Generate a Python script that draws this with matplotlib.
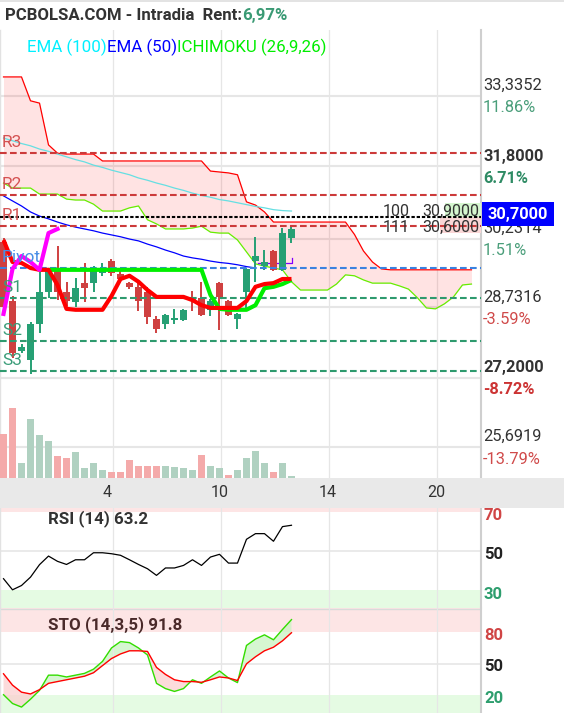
import numpy as np
import matplotlib
matplotlib.use("Agg")
import matplotlib.pyplot as plt
from matplotlib.patches import Rectangle
from matplotlib.transforms import blended_transform_factory, IdentityTransform, offset_copy

plt.rcParams['font.family'] = ['Roboto', 'DejaVu Sans']

# ---------------- data ----------------
opens = [30.16, 28.87, 27.78, 27.59, 28.37, 29.07, 29.55, 29.07, 28.85, 29.26, 29.26, 29.48, 29.74, 29.46, 29.26, 29.18, 29.07,
         28.48, 28.37, 28.46, 28.46, 28.94, 28.94, 28.68, 29.26, 28.87, 28.48, 29.07, 29.74, 29.63, 29.96, 29.55, 30.24]
highs = [30.24, 28.98, 27.93, 28.42, 29.59, 29.59, 30.07, 29.29, 29.37, 29.70, 29.63, 29.70, 29.79, 29.57, 29.29, 29.26, 29.18,
         28.55, 28.59, 28.70, 28.70, 29.09, 29.29, 28.92, 29.29, 28.89, 28.61, 29.59, 30.27, 29.98, 29.98, 30.46, 30.48]
lows = [28.68, 27.63, 27.74, 27.28, 28.18, 28.94, 28.89, 28.76, 28.74, 28.85, 29.07, 29.42, 29.42, 29.31, 29.13, 28.65, 28.37,
        28.18, 28.26, 28.37, 28.44, 28.65, 28.55, 28.55, 28.24, 28.55, 28.26, 28.65, 29.29, 29.55, 29.52, 29.53, 30.13]
closes = [28.74, 27.74, 27.87, 28.37, 29.07, 29.55, 29.07, 28.87, 29.15, 29.15, 29.55, 29.55, 29.48, 29.35, 29.18, 28.87, 28.52,
          28.26, 28.57, 28.50, 28.68, 28.89, 28.57, 28.87, 28.96, 28.57, 28.59, 29.57, 29.85, 29.72, 29.55, 30.35, 30.44]
volume = [125, 197, 42, 167, 122, 104, 62, 57, 72, 27, 42, 23, 18, 18, 50, 35, 35,
          33, 35, 30, 27, 22, 65, 35, 27, 8, 22, 57, 77, 42, 18, 42, 5]
vol_up = [0, 0, 1, 1, 1, 1, 0, 0, 1, 1, 1, 1, 0, 0, 0, 0, 0, 0, 1, 1, 1, 1, 0, 1, 1, 0, 1, 1, 1, 1, 0, 1, 1]

tenkan = [30.20, 29.72, 29.70, 29.59, 29.55, 29.55, 29.22, 28.70, 28.68, 28.68, 28.68, 28.68, 28.98, 29.35, 29.42, 29.29, 29.11,
          28.96, 28.96, 28.96, 28.96, 28.89, 28.78, 28.72, 28.72, 28.72, 28.72, 28.87, 29.18, 29.24, 29.26, 29.35, 29.35]
kijun = [np.nan] * 5 + [29.55] * 18 + [29.00, 28.70, 28.68, 28.68, 28.68, 28.78, 29.15, 29.18, 29.24, 29.33]
senkou_b = ([33.75, 33.75, 33.75, 33.23, 33.18, 32.27, 32.09] + [32.07] * 4 + [31.92] * 12 +
            [31.70, 31.68, 31.66, 31.62, 31.03, 30.96, 30.81] + [30.59] * 9 + [30.32, 29.96, 29.72, 29.57] + [29.55] * 10)
senkou_a = [31.44, 31.33, 31.33, 31.33, 31.20, 31.20, 31.20, 31.09, 31.07, 31.07, 30.98, 30.83, 30.83, 30.83, 30.90, 30.94,
            30.64, 30.55, 30.44, 30.44, 30.44, 30.46, 30.50, 30.37, 30.35, 30.35, 30.20, 29.94, 29.68, 29.63, 29.59, 29.55,
            29.29, 29.11, 29.11, 29.11, 29.11, 29.24, 29.44, 29.42, 29.33, 29.26, 29.26, 29.26, 29.20, 29.13, 28.94, 28.72,
            28.70, 28.81, 28.96, 29.22, 29.24]
ema100 = [32.42, 32.36, 32.30, 32.25, 32.18, 32.13, 32.07, 32.01, 31.95, 31.90, 31.83, 31.78, 31.72, 31.67, 31.62, 31.55, 31.50,
          31.44, 31.39, 31.33, 31.28, 31.22, 31.17, 31.13, 31.08, 31.05, 31.01, 30.97, 30.93, 30.90, 30.86, 30.84, 30.83]
ema50 = [31.16, 31.05, 30.94, 30.81, 30.72, 30.66, 30.59, 30.53, 30.48, 30.44, 30.40, 30.35, 30.31, 30.27, 30.22, 30.18, 30.11,
         30.05, 29.98, 29.92, 29.85, 29.81, 29.78, 29.74, 29.71, 29.69, 29.66, 29.62, 29.59]
signal_x = [28.3, 32.1, 32.1]
signal_y = [29.69, 29.69, 29.80]

level_names = ['R3', 'R2', 'R1', 'Pivot', 'S1', 'S2', 'S3']
level_vals = [32.09, 31.18, 30.50, 29.59, 28.94, 28.00, 27.35]
last_price = 30.70
book_rows = [('100', '30,9000'), ('111', '30,6000')]

axis_prices = [33.3352, 31.8000, 30.2314, 28.7316, 27.2000, 25.6919]
axis_pcts = ['11.86%', '6.71%', '1.51%', '-3.59%', '-8.72%', '-13.79%']
axis_bold = [False, True, False, False, True, False]

x_grid = [12.17, 24.17, 36.17, 48.17]
x_labels = ['4', '10', '14', '20']
x_label_pos = [11.5, 24.05, 36.05, 48.05]

rsi = [35.8, 30.1, 32.3, 36.6, 43.0, 47.4, 44.7, 43.1, 45.5, 45.5, 49.1, 49.1, 48.6, 47.8, 45.5, 43.1, 40.9,
       37.5, 41.3, 41.3, 42.6, 45.5, 42.6, 46.9, 48.3, 43.8, 43.8, 56.0, 58.9, 58.9, 55.0, 62.5, 63.2]
sto_k = [20.3, 11.9, 8.5, 16.0, 24.4, 38.9, 38.9, 37.2, 38.9, 40.6, 44.6, 52.0, 64.8, 70.9, 69.9, 64.8, 58.1,
         31.1, 26.1, 23.4, 26.1, 34.5, 31.1, 37.2, 42.9, 36.2, 31.8, 67.2, 73.3, 77.3, 72.6, 82.4, 91.8]
sto_d = [40.2, 29.4, 22.7, 21.0, 25.1, 31.1, 32.8, 34.5, 36.2, 37.9, 41.2, 48.0, 54.7, 59.1, 62.1, 62.1, 61.5,
         46.3, 39.6, 34.5, 32.8, 32.8, 32.1, 34.5, 37.2, 36.2, 33.8, 49.7, 56.4, 62.1, 65.5, 71.6, 79.3]

title_text = 'PCBOLSA.COM - Intradia  Rent:'
rent_text = '6,97%'
legend_items = [('EMA (100)', '#00f0ff'), ('EMA (50)', '#0000ff'), ('ICHIMOKU (26,9,26)', '#00ee00')]
rsi_title = 'RSI (14) 63.2'
sto_title = 'STO (14,3,5) 91.8'

# ---------------- layout ----------------
W, H = 564, 713
fig = plt.figure(figsize=(W / 100, H / 100), dpi=100)
fig.patch.set_facecolor('white')
PX = IdentityTransform()


def fy(y):
    return H - y


def rect(x0, y0, x1, y1):
    return [x0 / W, 1 - y1 / H, (x1 - x0) / W, (y1 - y0) / H]


def clean(a, right=True):
    a.set_xticks([])
    a.set_yticks([])
    for k, s in a.spines.items():
        s.set_visible(False)
    if right:
        a.spines['right'].set_visible(True)
        a.spines['right'].set_color('#cfcfcf')
        a.spines['right'].set_linewidth(1.5)
        a.spines['left'].set_visible(True)
        a.spines['left'].set_color('#e2e2e2')
        a.spines['left'].set_linewidth(1.0)


XL = (-0.39, 53.06)
PYL = (25.017, 34.772)
RED_C = '#cf4040'
GRN_C = '#26a074'
GRID = '#e6e6e6'

# top strip and x-axis band
fig.add_artist(Rectangle((0, fy(2)), W, 2, transform=PX, facecolor='#e3e3e3', lw=0))
fig.add_artist(Rectangle((0, fy(508)), W, 30, transform=PX, facecolor='#e9e9e9', lw=0))

# grid axes
axg = fig.add_axes(rect(0, 30, 481, 478))
axg.set_xlim(XL)
axg.set_ylim(PYL)
for p in axis_prices:
    axg.axhline(p, color=GRID, lw=1.5)
for xg in x_grid:
    axg.axvline(xg, color=GRID, lw=0.9)
clean(axg)

# volume axes
axv = fig.add_axes(rect(0, 30, 481, 478), facecolor='none')
axv.set_xlim(XL)
axv.set_ylim(0, 1261)
idx = np.arange(len(closes))
axv.bar(idx, volume, width=0.8, color=['#b0d1c1' if u else '#f4aaaa' for u in vol_up], lw=0)
clean(axv, right=False)

# price axes
ax = fig.add_axes(rect(0, 30, 481, 478), facecolor='none')
ax.set_xlim(XL)
ax.set_ylim(PYL)
clean(ax, right=False)

cidx = np.arange(len(senkou_a))
ax.fill_between(cidx, senkou_a, senkou_b, color='#ff0000', alpha=0.11, lw=0, zorder=1)
ax.plot(cidx, senkou_b, color='#ff0000', lw=0.9, zorder=2)
ax.plot(cidx, senkou_a, color='#66ee00', lw=0.9, zorder=2)
ax.plot(idx, ema100, color='#66dfe2', lw=0.9, zorder=2)
ax.plot(np.arange(len(ema50)), ema50, color='#0000ff', lw=0.9, zorder=2)
ax.plot(signal_x, signal_y, color='#8000ff', lw=0.9, zorder=2)

for i, (o, h, l, c) in enumerate(zip(opens, highs, lows, closes)):
    col = GRN_C if c >= o else RED_C
    ax.vlines(i, l, h, color=col, lw=1.4, zorder=3)
    ax.bar(i, max(abs(c - o), 0.05), bottom=min(o, c), width=0.78, color=col, lw=0, zorder=3.1)

lvl_colors = ['#cc3a3a'] * 3 + ['#3b82e0'] + ['#2e9a6e'] * 3
lbl_colors = ['#d45252'] * 3 + ['#4a8ee6'] + ['#3a9c78'] * 3
lbl_tr = offset_copy(blended_transform_factory(ax.transAxes, ax.transData), fig=fig, x=0, y=6, units='dots')
for name, v, lc, tc in zip(level_names, level_vals, lvl_colors, lbl_colors):
    ax.axhline(v, color=lc, lw=1.5, dashes=(3.2, 1.6), zorder=3.5)
    ax.text(2 / 481, v, name, transform=lbl_tr, color=tc, fontsize=12.5, va='baseline', ha='left', zorder=6)
ax.axhline(last_price, color='black', lw=1.5, dashes=(1.6, 0.9), zorder=3.6)

ax.plot(idx, kijun, color='#00ee00', lw=3.0, zorder=4, solid_capstyle='butt')
ax.plot(idx, tenkan, color='#ff0000', lw=3.0, zorder=4.2, solid_capstyle='butt')
chikou = closes[26:]
ax.plot(np.arange(len(chikou)), chikou, color='#ff00ff', lw=3.0, zorder=4.5)

# order book overlay
ax.add_patch(Rectangle((445, fy(217)), 40, 14, transform=PX, facecolor='#d5f6cf', lw=0, zorder=0.5))
ax.add_patch(Rectangle((440, fy(233)), 45, 16, transform=PX, facecolor='#f9d6d6', lw=0, zorder=0.5))
for (q, pstr), base in zip(book_rows, [216, 231.5]):
    ax.text(383, fy(base), q, transform=PX, fontsize=11.5, color='#333333', va='baseline', zorder=3.55, clip_on=True)
    ax.text(422, fy(base), pstr, transform=PX, fontsize=11.5, color='#333333', va='baseline', zorder=3.55, clip_on=True)

# right axis labels
rt_up = offset_copy(blended_transform_factory(PX, ax.transData), fig=fig, x=0, y=5.8, units='dots')
rt_dn = offset_copy(blended_transform_factory(PX, ax.transData), fig=fig, x=0, y=-16.5, units='dots')
for p, pc, b in zip(axis_prices, axis_pcts, axis_bold):
    fw = 'bold' if b else 'normal'
    pcol = ('#2e8b64' if b else '#4a9e7a') if not pc.startswith('-') else ('#cc3333' if b else '#d04a4a')
    fig.text(483, p, f"{p:.4f}".replace('.', ','), transform=rt_up, fontsize=11.8, color='#333333',
             fontweight=fw, va='baseline', ha='left')
    fig.text(483, p, pc, transform=rt_dn, fontsize=11.8, color=pcol, fontweight=fw, va='baseline', ha='left')

fig.add_artist(Rectangle((482, fy(225.7)), 72, 24, transform=PX, facecolor='#0000ff', lw=0, zorder=10))
fig.text(518, fy(219), f"{last_price:.4f}".replace('.', ','), transform=PX, fontsize=11.8, color='white',
         fontweight='bold', ha='center', va='baseline', zorder=11)

# x labels
xl_tr = blended_transform_factory(ax.transData, PX)
for pos, lab in zip(x_label_pos, x_labels):
    fig.text(pos, fy(497), lab, transform=xl_tr, fontsize=11.5, color='#333333', ha='center', va='baseline')

# title and legend
r = fig.canvas.get_renderer()
x = 5
for txt, col in [(title_text, '#333333'), (rent_text, '#3a9a74')]:
    t = fig.text(x, fy(20), txt, transform=PX, fontsize=12.1, color=col, fontweight='bold', va='baseline')
    x = t.get_window_extent(renderer=r).x1
x = 27
for txt, col in legend_items:
    t = fig.text(x, fy(52), txt, transform=PX, fontsize=12.2, color=col, va='baseline')
    x = t.get_window_extent(renderer=r).x1

# RSI panel
axr = fig.add_axes(rect(0, 508, 481, 608))
axr.set_xlim(XL)
axr.set_ylim(20.77, 72.05)
axr.axhspan(70, 100, color='#fde5e5', lw=0)
axr.axhspan(0, 30, color='#e5fbe3', lw=0)
axr.axhline(50, color=GRID, lw=1.2)
for xg in x_grid:
    axr.axvline(xg, color=GRID, lw=0.9)
axr.plot(idx, rsi, color='black', lw=0.9)
clean(axr)
fig.text(48.5, fy(523), rsi_title, transform=PX, fontsize=12.2, color='#333333', fontweight='bold', va='baseline')
r_tr = offset_copy(blended_transform_factory(PX, axr.transData), fig=fig, x=0, y=-8.5, units='dots')
for v, col in [(70, '#d04545'), (50, '#222222'), (30, '#2e9e6e')]:
    fig.text(484, v, str(v), transform=r_tr, fontsize=12, color=col, fontweight='bold', va='baseline')

# STO panel
axs = fig.add_axes(rect(0, 608, 481, 713))
axs.set_xlim(XL)
axs.set_ylim(2.86, 102.86)
axs.axhspan(80, 120, color='#fde5e5', lw=0)
axs.axhspan(0, 20, color='#e5fbe3', lw=0)
axs.axhline(50, color=GRID, lw=1.2)
axs.axhline(102.3, color='#dadada', lw=1.0)
for xg in x_grid:
    axs.axvline(xg, color=GRID, lw=0.9)
k = np.array(sto_k)
d = np.array(sto_d)
axs.fill_between(idx, k, d, where=k >= d, interpolate=True, color='#c9f3c2', alpha=0.75, lw=0)
axs.fill_between(idx, k, d, where=k < d, interpolate=True, color='#fbcfcf', alpha=0.75, lw=0)
axs.plot(idx, k, color='#33dd00', lw=1.0)
axs.plot(idx, d, color='#ff0000', lw=1.0)
clean(axs)
fig.text(48.5, fy(629), sto_title, transform=PX, fontsize=12.2, color='#4a2a2a', fontweight='bold', va='baseline')
s_tr = offset_copy(blended_transform_factory(PX, axs.transData), fig=fig, x=0, y=-7.5, units='dots')
for v, col in [(80, '#d04545'), (50, '#222222'), (20, '#2e9e6e')]:
    fig.text(484, v, str(v), transform=s_tr, fontsize=12, color=col, fontweight='bold', va='baseline')

fig.savefig('out.png', dpi=100)
